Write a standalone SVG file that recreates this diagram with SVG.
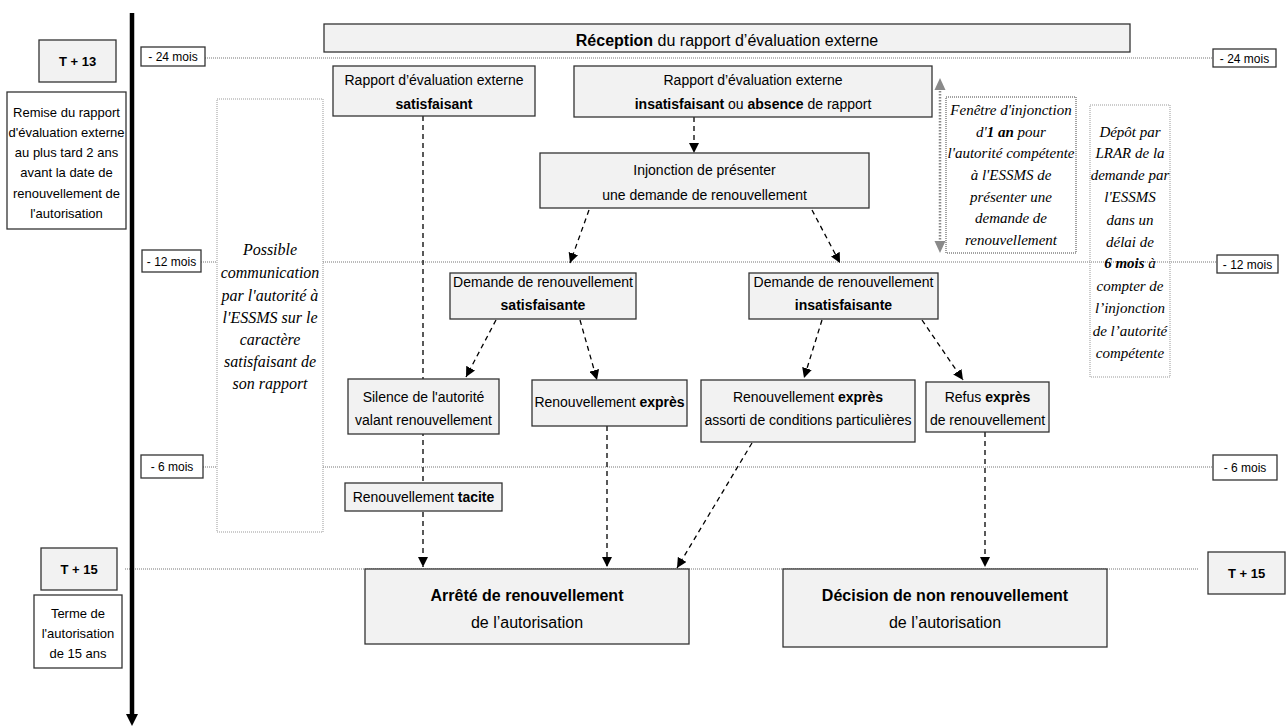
<svg xmlns="http://www.w3.org/2000/svg" width="1287" height="726" viewBox="0 0 1287 726">
<style>
.box{fill:#f2f2f2;stroke:#333;stroke-width:1.3}
.wbox{fill:#fff;stroke:#333;stroke-width:1.3}
.t{font-family:"Liberation Sans",Arial,sans-serif;font-size:14px;fill:#000;text-anchor:middle}
.s13{font-size:13px}
.s12{font-size:12px}
.s16{font-size:16px}
.b{font-weight:bold}
.it{font-family:"Liberation Serif","Times New Roman",serif;font-style:italic;font-size:16px;fill:#000;text-anchor:middle}
.it15{font-size:15px}
.tl{stroke:#777;stroke-width:1.2;stroke-dasharray:1 1;fill:none}
.con{stroke:#000;stroke-width:1.3;stroke-dasharray:5 4;fill:none;marker-end:url(#ah)}
.dotg{fill:#fff;stroke:#999;stroke-width:1;stroke-dasharray:1 1}
</style>
<defs>
<marker id="ah" markerUnits="userSpaceOnUse" markerWidth="11" markerHeight="10" refX="10" refY="5" orient="auto"><path d="M0,0 L10,5 L0,10 z" fill="#000"/></marker>
</defs>
<rect width="1287" height="726" fill="#fff"/>

<g id="timelines">
<line class="tl" x1="205" y1="58" x2="1213" y2="58"/>
<line class="tl" x1="201" y1="262" x2="1217" y2="262"/>
<line class="tl" x1="203" y1="467" x2="1213" y2="467"/>
<line class="tl" x1="125" y1="569" x2="1198" y2="569"/>
</g>

<g id="axis">
<line x1="132" y1="13" x2="132" y2="715" stroke="#000" stroke-width="4.5"/>
<path d="M126,714 L138,714 L132,726 z" fill="#000"/>
</g>

<g id="connectors">
<line class="con" x1="423" y1="116" x2="423" y2="567"/>
<line class="con" x1="694" y1="117" x2="694" y2="153"/>
<line class="con" x1="589" y1="210" x2="570" y2="263"/>
<line class="con" x1="812" y1="210" x2="840" y2="263"/>
<line class="con" x1="496" y1="320" x2="466" y2="377"/>
<line class="con" x1="580" y1="320" x2="597" y2="380"/>
<line class="con" x1="822" y1="320" x2="804" y2="378"/>
<line class="con" x1="922" y1="320" x2="963" y2="380"/>
<line class="con" x1="607" y1="426" x2="607" y2="567"/>
<line class="con" x1="752" y1="443" x2="677" y2="568"/>
<line class="con" x1="985" y1="432" x2="985" y2="567"/>
<g id="window-arrow">
<line x1="940" y1="88" x2="940" y2="243" stroke="#8a8a8a" stroke-width="2.5" stroke-dasharray="1.5 1.5"/>
<path d="M940,78 L934.5,90 L945.5,90 z" fill="#8a8a8a"/>
<path d="M940,253 L934.5,241 L945.5,241 z" fill="#8a8a8a"/>
</g>
</g>

<g id="t13"><rect class="box" x="39" y="40" width="77" height="42"/><text class="t s13 b" x="77.5" y="66">T + 13</text></g>
<g id="remise"><rect class="wbox" x="7" y="92" width="119" height="137"/>
<text class="t s13" x="66.5" y="117">Remise du rapport</text>
<text class="t s13" x="66.5" y="137">d'évaluation externe</text>
<text class="t s13" x="66.5" y="157">au plus tard 2 ans</text>
<text class="t s13" x="66.5" y="177">avant la date de</text>
<text class="t s13" x="66.5" y="198">renouvellement de</text>
<text class="t s13" x="66.5" y="218">l'autorisation</text></g>
<g id="t15"><rect class="box" x="41" y="548" width="76" height="42"/><text class="t s13 b" x="79" y="574">T + 15</text></g>
<g id="terme"><rect class="wbox" x="34" y="595" width="88" height="73"/>
<text class="t s13" x="78" y="618">Terme de</text>
<text class="t s13" x="78" y="638">l'autorisation</text>
<text class="t s13" x="78" y="658">de 15 ans</text></g>
<g id="t15r"><rect class="box" x="1208" y="552" width="77" height="42"/><text class="t s13 b" x="1246.5" y="578">T + 15</text></g>

<g id="m24l"><rect class="wbox" x="141" y="47" width="64" height="19"/><text class="t s12" x="173" y="61">- 24 mois</text></g>
<g id="m24r"><rect class="wbox" x="1213" y="49" width="63" height="18"/><text class="t s12" x="1244.5" y="62.5">- 24 mois</text></g>
<g id="m12l"><rect class="wbox" x="142" y="250" width="59" height="22"/><text class="t s12" x="171.5" y="265.5">- 12 mois</text></g>
<g id="m12r"><rect class="wbox" x="1217" y="255" width="61" height="18"/><text class="t s12" x="1247.5" y="268.5">- 12 mois</text></g>
<g id="m6l"><rect class="wbox" x="141" y="455" width="62" height="23"/><text class="t s12" x="172" y="471">- 6 mois</text></g>
<g id="m6r"><rect class="wbox" x="1213" y="455" width="64" height="25"/><text class="t s12" x="1245" y="472">- 6 mois</text></g>

<g id="reception"><rect class="box" x="324" y="24" width="806" height="28"/>
<text class="t s16" x="727" y="45.5"><tspan class="b">Réception</tspan> du rapport d’évaluation externe</text></g>

<g id="rapport-sat"><rect class="box" x="333" y="66" width="202" height="50"/>
<text class="t" x="434" y="85">Rapport d’évaluation externe</text>
<text class="t b" x="434" y="109">satisfaisant</text></g>

<g id="rapport-insat"><rect class="box" x="574" y="66" width="358" height="51"/>
<text class="t" x="753" y="85">Rapport d’évaluation externe</text>
<text class="t" x="753" y="109"><tspan class="b">insatisfaisant</tspan> ou <tspan class="b">absence</tspan> de rapport</text></g>

<g id="injonction"><rect class="box" x="540" y="153" width="329" height="55"/>
<text class="t" x="704.5" y="175">Injonction de présenter</text>
<text class="t" x="704.5" y="200">une demande de renouvellement</text></g>

<g id="possible"><rect class="dotg" x="217" y="99" width="106" height="433"/>
<text class="it" x="270" y="255">Possible</text>
<text class="it" x="270" y="278">communication</text>
<text class="it" x="270" y="301">par l'autorité à</text>
<text class="it" x="270" y="323">l'ESSMS sur le</text>
<text class="it" x="270" y="345">caractère</text>
<text class="it" x="270" y="367">satisfaisant de</text>
<text class="it" x="270" y="389">son rapport</text></g>

<g id="fenetre"><rect x="946" y="97" width="130" height="156" fill="#fff" stroke="#444" stroke-width="1" stroke-dasharray="1 1"/>
<text class="it it15" x="1011" y="115">Fenêtre d'injonction</text>
<text class="it it15" x="1011" y="137">d'<tspan font-weight="bold">1 an</tspan> pour</text>
<text class="it it15" x="1011" y="158">l'autorité compétente</text>
<text class="it it15" x="1011" y="180">à l'ESSMS de</text>
<text class="it it15" x="1011" y="202">présenter une</text>
<text class="it it15" x="1011" y="223">demande de</text>
<text class="it it15" x="1011" y="245">renouvellement</text></g>

<g id="depot"><rect x="1090" y="105" width="80" height="272" fill="none" stroke="#999" stroke-width="1" stroke-dasharray="1 1"/>
<text class="it it15" x="1130" y="137">Dépôt par</text>
<text class="it it15" x="1130" y="158">LRAR de la</text>
<text class="it it15" x="1130" y="180">demande par</text>
<text class="it it15" x="1130" y="202">l'ESSMS</text>
<text class="it it15" x="1130" y="225">dans un</text>
<text class="it it15" x="1130" y="247">délai de</text>
<text class="it it15" x="1130" y="268"><tspan font-weight="bold">6 mois</tspan> à</text>
<text class="it it15" x="1130" y="291">compter de</text>
<text class="it it15" x="1130" y="313">l’injonction</text>
<text class="it it15" x="1130" y="336">de l’autorité</text>
<text class="it it15" x="1130" y="358">compétente</text></g>

<g id="demande-sat"><rect class="box" x="450" y="273" width="186" height="46"/>
<text class="t" x="543" y="287">Demande de renouvellement</text>
<text class="t b" x="543" y="310">satisfaisante</text></g>

<g id="demande-insat"><rect class="box" x="749" y="273" width="189" height="46"/>
<text class="t" x="843.5" y="287">Demande de renouvellement</text>
<text class="t b" x="843.5" y="310">insatisfaisante</text></g>

<g id="silence"><rect class="box" x="348" y="379" width="151" height="55"/>
<text class="t" x="423.5" y="402">Silence de l'autorité</text>
<text class="t" x="423.5" y="425">valant renouvellement</text></g>

<g id="ren-expres"><rect class="box" x="532" y="380" width="155" height="46"/>
<text class="t" x="609.5" y="407">Renouvellement <tspan class="b">exprès</tspan></text></g>

<g id="ren-assorti"><rect class="box" x="701" y="380" width="214" height="62"/>
<text class="t" x="808" y="402">Renouvellement <tspan class="b">exprès</tspan></text>
<text class="t" x="808" y="425">assorti de conditions particulières</text></g>

<g id="refus"><rect class="box" x="926" y="382" width="123" height="50"/>
<text class="t" x="987.5" y="402">Refus <tspan class="b">exprès</tspan></text>
<text class="t" x="987.5" y="425">de renouvellement</text></g>

<g id="tacite"><rect class="box" x="345" y="483" width="157" height="28"/>
<text class="t" x="423.5" y="502">Renouvellement <tspan class="b">tacite</tspan></text></g>

<g id="arrete"><rect class="box" x="365" y="569" width="324" height="75"/>
<text class="t s16 b" x="527" y="601">Arrêté de renouvellement</text>
<text class="t s16" x="527" y="628">de l’autorisation</text></g>

<g id="decision"><rect class="box" x="783" y="569" width="324" height="78"/>
<text class="t s16 b" x="945" y="601">Décision de non renouvellement</text>
<text class="t s16" x="945" y="628">de l’autorisation</text></g>
</svg>
